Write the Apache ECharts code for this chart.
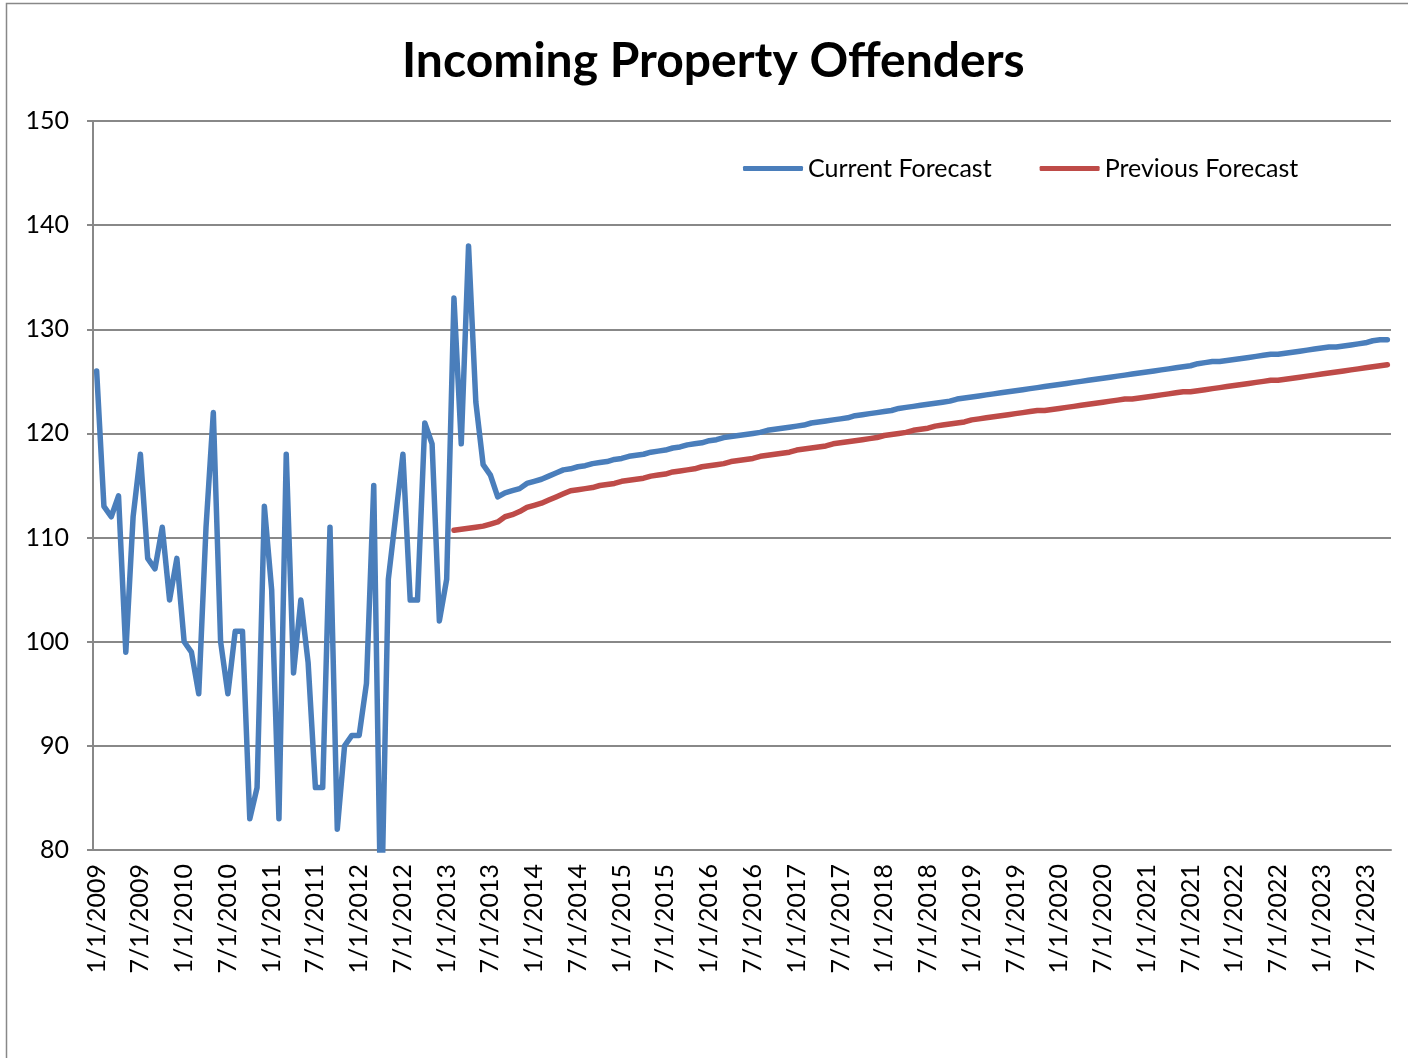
<!DOCTYPE html>
<html>
<head>
<meta charset="utf-8">
<title>Incoming Property Offenders</title>
<script src="https://cdn.jsdelivr.net/npm/echarts@6/dist/echarts.min.js"></script>
<style>
    html, body { margin: 0; padding: 0; background: #fff; }
    #chart { width: 1408px; height: 1058px; }
</style>
</head>
<body>
<div id="chart"></div>
<script>
// monthly, 1/1/2009 .. 10/1/2023
var startYear = 2009;
var monthCount = 178;

// actuals then current forecast (from 7/1/2013 on)
var currentForecast = [
    126, 113, 112, 114, 99, 112, 118, 108, 107, 111, 104, 108,          // 2009
    100, 99, 95, 111, 122, 100, 95, 101, 101, 83, 86, 113,              // 2010
    105, 83, 118, 97, 104, 98, 86, 86, 111, 82, 90, 91,                 // 2011
    91, 96, 115, 72, 106, 112, 118, 104, 104, 121, 119, 102,            // 2012
    106, 133, 119, 138, 123, 117, 116, 113.9, 114.3, 114.5, 114.7, 115.2, // 2013
    115.4, 115.6, 115.9, 116.2, 116.5, 116.6, 116.8, 116.9, 117.1, 117.2, 117.3, 117.5, // 2014
    117.6, 117.8, 117.9, 118.0, 118.2, 118.3, 118.4, 118.6, 118.7, 118.9, 119.0, 119.1, // 2015
    119.3, 119.4, 119.6, 119.7, 119.8, 119.9, 120.0, 120.1, 120.3, 120.4, 120.5, 120.6, // 2016
    120.7, 120.8, 121.0, 121.1, 121.2, 121.3, 121.4, 121.5, 121.7, 121.8, 121.9, 122.0, // 2017
    122.1, 122.2, 122.4, 122.5, 122.6, 122.7, 122.8, 122.9, 123.0, 123.1, 123.3, 123.4, // 2018
    123.5, 123.6, 123.7, 123.8, 123.9, 124.0, 124.1, 124.2, 124.3, 124.4, 124.5, 124.6, // 2019
    124.7, 124.8, 124.9, 125.0, 125.1, 125.2, 125.3, 125.4, 125.5, 125.6, 125.7, 125.8, // 2020
    125.9, 126.0, 126.1, 126.2, 126.3, 126.4, 126.5, 126.7, 126.8, 126.9, 126.9, 127.0, // 2021
    127.1, 127.2, 127.3, 127.4, 127.5, 127.6, 127.6, 127.7, 127.8, 127.9, 128.0, 128.1, // 2022
    128.2, 128.3, 128.3, 128.4, 128.5, 128.6, 128.7, 128.9, 129.0, 129.0                // 2023
];

// previous forecast, starts 2/1/2013
var previousForecast = [
    null, null, null, null, null, null, null, null, null, null, null, null,
    null, null, null, null, null, null, null, null, null, null, null, null,
    null, null, null, null, null, null, null, null, null, null, null, null,
    null, null, null, null, null, null, null, null, null, null, null, null,
    null, 110.7, 110.8, 110.9, 111.0, 111.1, 111.3, 111.5, 112.0, 112.2, 112.5, 112.9, // 2013
    113.1, 113.3, 113.6, 113.9, 114.2, 114.5, 114.6, 114.7, 114.8, 115.0, 115.1, 115.2, // 2014
    115.4, 115.5, 115.6, 115.7, 115.9, 116.0, 116.1, 116.3, 116.4, 116.5, 116.6, 116.8, // 2015
    116.9, 117.0, 117.1, 117.3, 117.4, 117.5, 117.6, 117.8, 117.9, 118.0, 118.1, 118.2, // 2016
    118.4, 118.5, 118.6, 118.7, 118.8, 119.0, 119.1, 119.2, 119.3, 119.4, 119.5, 119.6, // 2017
    119.8, 119.9, 120.0, 120.1, 120.3, 120.4, 120.5, 120.7, 120.8, 120.9, 121.0, 121.1, // 2018
    121.3, 121.4, 121.5, 121.6, 121.7, 121.8, 121.9, 122.0, 122.1, 122.2, 122.2, 122.3, // 2019
    122.4, 122.5, 122.6, 122.7, 122.8, 122.9, 123.0, 123.1, 123.2, 123.3, 123.3, 123.4, // 2020
    123.5, 123.6, 123.7, 123.8, 123.9, 124.0, 124.0, 124.1, 124.2, 124.3, 124.4, 124.5, // 2021
    124.6, 124.7, 124.8, 124.9, 125.0, 125.1, 125.1, 125.2, 125.3, 125.4, 125.5, 125.6, // 2022
    125.7, 125.8, 125.9, 126.0, 126.1, 126.2, 126.3, 126.4, 126.5, 126.6                // 2023
];

var yTicks = { min: 80, max: 150, step: 10 };

//月份标签 M/1/YYYY
var months = [];
for (var i = 0; i < monthCount; i++) {
    months.push(((i % 12) + 1) + "/1/" + (startYear + Math.floor(i / 12)));
}

var gridGray = '#888888';
var font = 'Lato, "Open Sans", sans-serif';

var myChart = echarts.init(document.getElementById('chart'), null, { renderer: 'canvas' });

var option = {
    animation: false,
    backgroundColor: '#fff',
    title: {
        text: 'Incoming Property Offenders',
        left: 397,
        top: 33,
        textStyle: { fontFamily: font, fontWeight: 'bold', fontSize: 48, color: '#000' }
    },
    legend: {
        left: 738,
        top: 151,
        itemWidth: 60,
        itemHeight: 5,
        itemGap: 48,
        icon: 'roundRect',
        textStyle: { fontFamily: font, fontSize: 25, color: '#000' },
        data: ['Current Forecast', 'Previous Forecast']
    },
    grid: { left: 93, right: 17, top: 121, bottom: 208, containLabel: false },
    xAxis: {
        type: 'category',
        data: months,
        boundaryGap: true,
        axisLine: { lineStyle: { color: gridGray, width: 2 } },
        axisTick: { interval: 5, length: 7, lineStyle: { color: gridGray, width: 2 } },
        axisLabel: {
            interval: 5,
            rotate: 90,
            margin: 14,
            fontFamily: font,
            fontSize: 25,
            color: '#000'
        },
        splitLine: { show: false }
    },
    yAxis: {
        type: 'value',
        min: yTicks.min,
        max: yTicks.max,
        interval: yTicks.step,
        axisLine: { show: true, lineStyle: { color: gridGray, width: 2 } },
        axisTick: { show: true, length: 6, lineStyle: { color: gridGray, width: 2 } },
        axisLabel: { margin: 24, fontFamily: font, fontSize: 25, color: '#000' },
        splitLine: { lineStyle: { color: gridGray, width: 2 } }
    },
    series: [
        {
            name: 'Current Forecast',
            type: 'line',
            data: currentForecast,
            symbol: 'none',
            clip: true,
            color: '#4a7ebb',
            lineStyle: { width: 5.5, color: '#4a7ebb', cap: 'round', join: 'round' }
        },
        {
            name: 'Previous Forecast',
            type: 'line',
            data: previousForecast,
            symbol: 'none',
            clip: true,
            color: '#be4b48',
            lineStyle: { width: 5.5, color: '#be4b48', cap: 'round', join: 'round' }
        }
    ],
    graphic: [{
        type: 'rect',
        shape: { x: 6.5, y: 3.5, width: 1500, height: 1200 },
        style: { fill: 'none', stroke: gridGray, lineWidth: 1.5 },
        silent: true
    }]
};
myChart.setOption(option);
</script>
</body>
</html>
